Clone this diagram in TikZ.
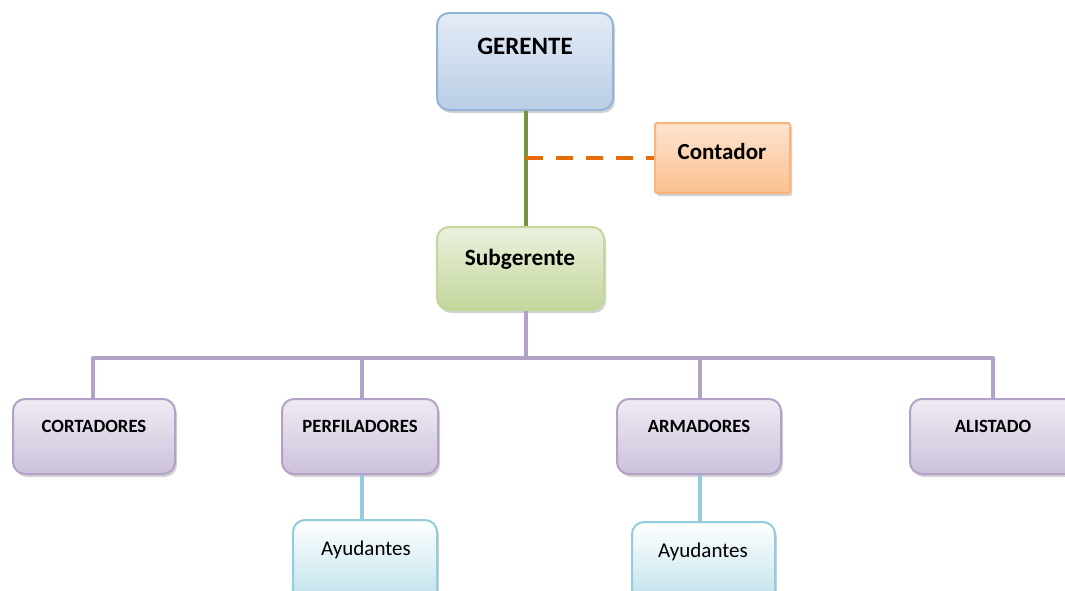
\documentclass[tikz,border=0pt]{standalone}
\usepackage{fontspec}
\setmainfont{Carlito}
\usetikzlibrary{shadows}
\definecolor{bluebd}{HTML}{95B3D7}
\definecolor{bluetop}{HTML}{E4ECF6}
\definecolor{bluebot}{HTML}{B9CDE5}
\definecolor{orbd}{HTML}{F9B47E}
\definecolor{ortop}{HTML}{FDE4D0}
\definecolor{orbot}{HTML}{FAC090}
\definecolor{grbd}{HTML}{C3D69B}
\definecolor{grtop}{HTML}{EBF1DE}
\definecolor{grbot}{HTML}{C3D69B}
\definecolor{pubd}{HTML}{B3A2C7}
\definecolor{putop}{HTML}{EFEBF4}
\definecolor{pubot}{HTML}{CCC1DA}
\definecolor{cybd}{HTML}{93CDDD}
\definecolor{cytop}{HTML}{FFFFFF}
\definecolor{cybot}{HTML}{B7DEE8}
\definecolor{grline}{HTML}{77933C}
\definecolor{orline}{HTML}{E46C0A}
\definecolor{puline}{HTML}{B3A2C7}
\definecolor{cyline}{HTML}{93CDDD}
\tikzset{
  box/.style={rectangle, rounded corners=12pt, line width=2pt, inner sep=0pt,
    drop shadow={opacity=0.35, shadow xshift=2pt, shadow yshift=-3pt}},
  bluebox/.style={box, draw=bluebd, top color=bluetop, bottom color=bluebot},
  orbox/.style={box, rounded corners=2pt, draw=orbd, top color=ortop, bottom color=orbot},
  grbox/.style={box, draw=grbd, top color=grtop, bottom color=grbot},
  pubox/.style={box, draw=pubd, top color=putop, bottom color=pubot},
  cybox/.style={box, draw=cybd, top color=cytop, bottom color=cybot},
  lbl/.style={font=\bfseries, inner sep=0pt},
  plbl/.style={inner sep=0pt, font=\fontsize{18.7}{22}\selectfont\bfseries},
  albl/.style={inner sep=0pt, font=\fontsize{21}{25}\selectfont},
  glink/.style={line width=4pt, grline},
  olink/.style={line width=4pt, orline, dash pattern=on 17pt off 13pt},
  plink/.style={line width=4pt, puline},
  clink/.style={line width=4pt, cyline},
}
\begin{document}
\begin{tikzpicture}[x=1pt,y=-1pt]
\useasboundingbox (0,0) rectangle (1065,590);
% boxes
\node[bluebox, minimum width=176pt, minimum height=97pt] (ger) at (525,61.5) {};
\node[lbl, font=\fontsize{25}{28}\selectfont\bfseries] (gert) at (525,46) {GERENTE};
\node[orbox, minimum width=135pt, minimum height=70pt] (con) at (722.5,158) {};
\node[lbl, font=\fontsize{23}{27}\selectfont\bfseries] (cont) at (722,152) {Contador};
\node[grbox, minimum width=167pt, minimum height=83pt] (sub) at (520.5,268.5) {};
\node[lbl, font=\fontsize{23.3}{27}\selectfont\bfseries] (subt) at (520,259) {Subgerente};

\node[pubox, minimum width=162pt, minimum height=75pt] (cor) at (94,436.5) {};
\node[plbl] (cort) at (94,426) {CORTADORES};
\node[pubox, minimum width=156pt, minimum height=75pt] (per) at (360,436.5) {};
\node[plbl] (pert) at (360,426) {PERFILADORES};
\node[pubox, minimum width=164pt, minimum height=75pt] (arm) at (699,436.5) {};
\node[plbl] (armt) at (699,426) {ARMADORES};
\node[pubox, minimum width=166pt, minimum height=75pt] (ali) at (993,436.5) {};
\node[plbl] (alit) at (993,426) {ALISTADO};

\node[cybox, minimum width=144pt, minimum height=90pt] (ay1) at (365,565) {};
\node[albl] (ay1t) at (366,550) {Ayudantes};
\node[cybox, minimum width=143pt, minimum height=90pt] (ay2) at (703.5,567) {};
\node[albl] (ay2t) at (703,552) {Ayudantes};

% connectors
\coordinate (mid) at (526,158);
\coordinate (bar) at (526,358);
\draw[glink] (ger.south -| mid) -- (sub.north -| mid);
\draw[olink] (mid) -- (con.west);
\draw[plink] (sub.south -| bar) -- (bar);
\draw[plink, line join=round] (cor.north -| 93,0) |- (bar) -| (ali.north -| 993,0);
\draw[plink] (bar -| 362,0) -- (per.north -| 362,0);
\draw[plink] (bar -| 700,0) -- (arm.north -| 700,0);
\draw[clink] (per.south -| 362,0) -- (ay1.north -| 362,0);
\draw[clink] (arm.south -| 700,0) -- (ay2.north -| 700,0);
\end{tikzpicture}
\end{document}
